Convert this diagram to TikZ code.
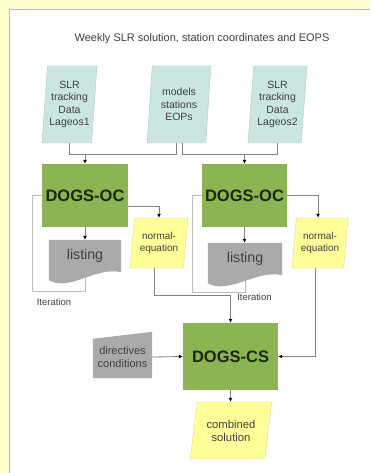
\documentclass[tikz,border=0pt]{standalone}
\usepackage{fontspec}
\setmainfont{Liberation Sans}
\usetikzlibrary{shapes.geometric,arrows.meta,calc,backgrounds}
\definecolor{bgyellow}{RGB}{255,255,204}
\definecolor{panelline}{RGB}{184,184,232}
\definecolor{datafill}{RGB}{203,229,224}
\definecolor{dataline}{RGB}{172,206,199}
\definecolor{procfill}{RGB}{139,181,82}
\definecolor{proctext}{RGB}{30,38,18}
\definecolor{eqfill}{RGB}{255,255,153}
\definecolor{eqline}{RGB}{222,222,120}
\definecolor{docfill}{RGB}{170,170,170}
\definecolor{txt}{RGB}{64,64,64}
\definecolor{conn}{RGB}{128,128,128}
\definecolor{iterline}{RGB}{188,188,188}
\tikzset{
  title/.style={text=txt,font=\fontsize{11}{12}\selectfont},
  data/.style={trapezium,trapezium stretches=true,trapezium left angle=84,
    trapezium right angle=96,fill=datafill,draw=dataline,text=txt,
    align=center,inner sep=1pt,font=\fontsize{10.5}{12.5}\selectfont},
  proc/.style={rectangle,fill=procfill,text=proctext,
    font=\bfseries\fontsize{16.5}{18}\selectfont},
  equation/.style={trapezium,trapezium stretches=true,trapezium left angle=81,
    trapezium right angle=99,fill=eqfill,draw=eqline,text=txt,
    align=center,inner sep=1pt,font=\fontsize{10}{12}\selectfont},
  listing/.style={rectangle,minimum width=72,minimum height=32,text=txt,
    font=\fontsize{14.2}{16}\selectfont},
  manual/.style={rectangle,minimum width=59,minimum height=42,text=txt,
    align=center,font=\fontsize{11}{13}\selectfont},
  note/.style={text=txt,font=\fontsize{9.5}{11}\selectfont},
  line/.style={conn,line width=0.8pt},
  arrow/.style={line,-{Latex[length=4pt,width=4pt,color=black]}},
  loopline/.style={iterline,line width=0.8pt}
}
\begin{document}
\begin{tikzpicture}[x=1pt,y=-1pt]
\useasboundingbox (0,0) rectangle (370,473);
\begin{scope}[on background layer]
\fill[bgyellow] (0,0) rectangle (370,473);
\fill[white] (9,9) rectangle (370,473);
\draw[panelline] (9,473) -- (9,9) -- (370,9);
\end{scope}

\node[title] (T) at (202,39) {Weekly SLR solution, station coordinates and EOPS};

% inputs
\node[data,minimum width=55,minimum height=77] (D1) at (69.5,104.5) {SLR\\tracking\\Data\\Lageos1};
\node[data,minimum width=64,minimum height=77] (D2) at (179,104.5) {models\\stations\\EOPs};
\node[data,minimum width=59,minimum height=77] (D3) at (277.5,104.5) {SLR\\tracking\\Data\\Lageos2};

% orbit runs
\node[proc,minimum width=84,minimum height=63] (OC1) at (85,195.5) {DOGS-OC};
\node[proc,minimum width=84,minimum height=63] (OC2) at (244.5,195.5) {DOGS-OC};
\node[listing] (L1) at (85,256) {listing};
\node[listing,minimum width=74] (L2) at (245,259) {listing};
\node[equation,minimum width=58,minimum height=50] (NE1) at (159,243) {normal-\\equation};
\node[equation,minimum width=56,minimum height=50] (NE2) at (320,243) {normal-\\equation};
\node[note] (I1) at (54,302) {Iteration};
\node[note] (I2) at (254.5,297) {Iteration};

% combination
\node[proc,minimum width=95,minimum height=67] (CS) at (230.5,356.5) {DOGS-CS};
\node[manual] (DC) at (122.5,357) {directives\\conditions};
\node[equation,trapezium left angle=77,trapezium right angle=103,
  minimum width=82,minimum height=57,font=\fontsize{11.3}{13}\selectfont] (CB) at (231,430.5) {combined\\solution};

\begin{scope}[on background layer]
\fill[docfill] (L1.north west) -- (L1.north east) -- (L1.south east)
  .. controls ($(L1.south east)+(-25,-6)$) and ($(L1.south west)+(20,20)$) .. ($(L1.south west)+(0,8)$) -- cycle;
\fill[docfill] (L2.north west) -- (L2.north east) -- (L2.south east)
  .. controls ($(L2.south east)+(-25,-6)$) and ($(L2.south west)+(20,20)$) .. ($(L2.south west)+(0,8)$) -- cycle;
\fill[docfill] (DC.south west) -- ($(DC.north west)+(0,3)$) -- ($(DC.north east)+(0,-4)$) -- (DC.south east) -- cycle;
\end{scope}

\coordinate (J) at (0,154);
\draw[line] (D1.south) -- (D1.south |- J) -| ([xshift=-3pt]D2.south);
\draw[line] ([xshift=3pt]D2.south) -- ([xshift=3pt]D2.south |- J) -| (D3.south);
\draw[arrow] (OC1.north |- J) -- (OC1.north);
\draw[arrow] (OC2.north |- J) -- (OC2.north);
\draw[arrow] (OC1.south) -- (L1.north);
\draw[arrow] (OC2.south) -- (OC2.south |- L2.north);
\draw[arrow] ([yshift=-11pt]OC1.east) -| (NE1.north);
\draw[arrow] (OC2.east) -| ([xshift=-2pt]NE2.north);
\draw[loopline] (OC1.west) -- ++(-10,0) |- ($(L1.south)+(0,19)$) -- ([yshift=-6pt]L1.south);
\draw[loopline] (OC2.west) -- ++(-9,0) |- ($(L2.south)+(0,17)$) -- ([yshift=-6pt]L2.south);
\draw[arrow] ([xshift=-5pt]NE1.south) -- ++(0,27) -| (CS.north);
\draw[arrow] ([xshift=-5pt]NE2.south) |- (CS.east);
\draw[arrow] (DC.east) -- (CS.west);
\draw[arrow] (CS.south) -- (CS.south |- CB.north);
\end{tikzpicture}
\end{document}
